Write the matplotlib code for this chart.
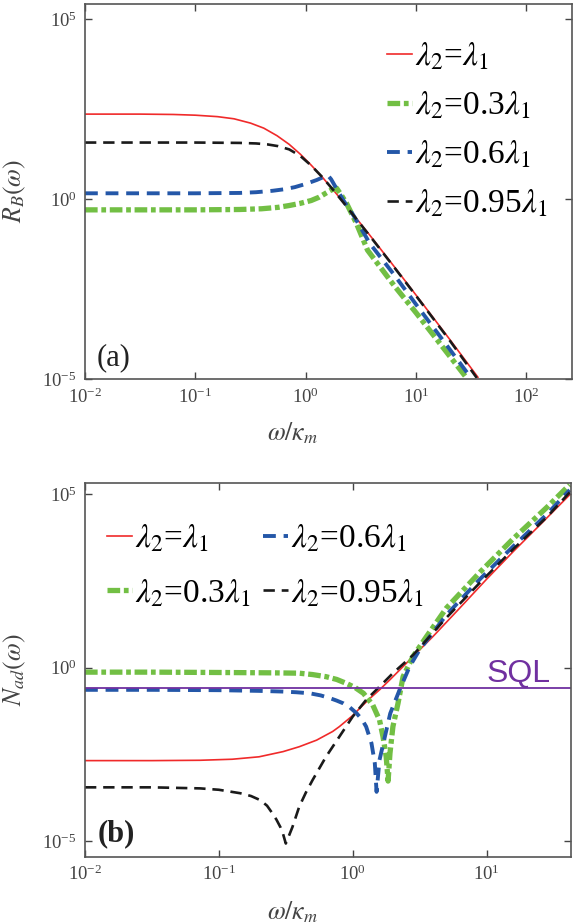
import numpy as np
import matplotlib
matplotlib.use("Agg")
import matplotlib.pyplot as plt
from matplotlib.ticker import FixedLocator, LogFormatterMathtext, NullLocator

plt.rcParams['font.family'] = ['Liberation Serif', 'DejaVu Serif']
plt.rcParams['mathtext.fontset'] = 'stix'

# ---- panel (a): R_B(omega), values read as log10 ----
a_red_x = [-2, -1.5, -1.2, -1.0, -0.8, -0.65, -0.5, -0.38, -0.26, -0.15, -0.05, 0.05,
           0.15, 0.25, 0.35, 0.45, 0.6, 0.8, 1.0, 1.3, 1.56]
a_red_y = [2.36, 2.36, 2.35, 2.33, 2.29, 2.23, 2.11, 1.97, 1.76, 1.52, 1.25, 0.94,
           0.61, 0.25, -0.12, -0.50, -1.08, -1.87, -2.67, -3.88, -4.95]

a_green_x = [-2, -1.0, -0.6, -0.4, -0.25, -0.15, -0.05, 0.05, 0.12, 0.18, 0.23, 0.28,
             0.32, 0.37, 0.46, 0.56, 0.8, 1.0, 1.2, 1.45]
a_green_y = [-0.3, -0.3, -0.29, -0.27, -0.23, -0.18, -0.12, -0.04, 0.05, 0.16, 0.25, 0.30,
             0.12, -0.12, -0.68, -1.42, -2.4, -3.16, -3.95, -4.94]

a_blue_x = [-2, -1.0, -0.6, -0.45, -0.3, -0.2, -0.1, 0.0, 0.1, 0.16, 0.2, 0.23, 0.26,
            0.34, 0.43, 0.58, 0.8, 1.0, 1.25, 1.5]
a_blue_y = [0.16, 0.16, 0.17, 0.19, 0.23, 0.27, 0.33, 0.42, 0.53, 0.61, 0.66, 0.55, 0.39,
            -0.03, -0.44, -1.23, -2.1, -2.93, -3.95, -4.98]

a_black_x = [-2, -1.0, -0.6, -0.45, -0.35, -0.25, -0.15, -0.05, 0.05, 0.15, 0.25, 0.35,
             0.45, 0.6, 0.8, 1.0, 1.3, 1.55]
a_black_y = [1.57, 1.57, 1.56, 1.545, 1.52, 1.47, 1.38, 1.2, 0.93, 0.61, 0.25, -0.13,
             -0.52, -1.1, -1.89, -2.69, -3.91, -4.97]

# ---- panel (b): N_ad(omega), values read as log10 ----
b_red_x = [-2, -1.5, -1.14, -0.9, -0.7, -0.52, -0.4, -0.27, -0.15, -0.1, 0.0, 0.05, 0.13,
           0.2, 0.28, 0.35, 0.45, 0.6, 0.8, 1.0, 1.2, 1.4, 1.62]
b_red_y = [-2.68, -2.68, -2.67, -2.64, -2.57, -2.42, -2.28, -2.09, -1.84, -1.70, -1.38, -1.18,
           -0.88, -0.64, -0.34, -0.07, 0.32, 0.9, 1.72, 2.55, 3.35, 4.12, 4.98]

b_green_x = [-2, -1.5, -1.0, -0.6, -0.4, -0.3, -0.2, -0.12, -0.05, 0.02, 0.08, 0.15, 0.2,
             0.226, 0.25, 0.264, 0.278, 0.3, 0.338, 0.376, 0.45, 0.55, 0.7, 0.95, 1.2,
             1.45, 1.62]
b_green_y = [-0.13, -0.13, -0.14, -0.15, -0.16, -0.2, -0.26, -0.34, -0.45, -0.58, -0.74,
             -1.08, -1.51, -1.99, -2.57, -3.27, -2.47, -1.70, -1.03, -0.26, 0.32, 0.89,
             1.72, 2.75, 3.72, 4.62, 5.27]

b_blue_x = [-2, -1.5, -1.0, -0.7, -0.52, -0.42, -0.32, -0.24, -0.17, -0.12, -0.07, -0.02,
            0.03, 0.07, 0.1, 0.14, 0.165, 0.178, 0.2, 0.24, 0.28, 0.35, 0.425, 0.5, 0.7,
            0.95, 1.2, 1.45, 1.62]
b_blue_y = [-0.64, -0.64, -0.65, -0.67, -0.69, -0.71, -0.74, -0.8, -0.88, -0.95, -1.03,
            -1.15, -1.32, -1.5, -1.70, -2.18, -2.76, -3.58, -2.66, -1.99, -1.32, -0.64,
            0.03, 0.52, 1.52, 2.55, 3.5, 4.42, 5.12]

b_black_x = [-2, -1.5, -1.14, -1.0, -0.84, -0.76, -0.69, -0.64, -0.6, -0.57, -0.54, -0.52,
             -0.5, -0.48, -0.45, -0.4, -0.35, -0.3, -0.2, -0.1, 0.0, 0.1, 0.2, 0.3,
             0.45, 0.7, 0.95, 1.2, 1.45, 1.62]
b_black_y = [-3.45, -3.45, -3.48, -3.52, -3.62, -3.7, -3.82, -3.98, -4.2, -4.38, -4.6,
             -4.8, -5.07, -4.88, -4.59, -4.01, -3.6, -3.24, -2.57, -1.99, -1.41, -0.93,
             -0.55, -0.16, 0.36, 1.44, 2.45, 3.42, 4.34, 5.05]

sql_level = -0.58

labels = [r'$\lambda_2$=$\lambda_1$', r'$\lambda_2$=0.3$\lambda_1$',
          r'$\lambda_2$=0.6$\lambda_1$', r'$\lambda_2$=0.95$\lambda_1$']

red = '#f02a2a'
green = '#72bf44'
blue = '#2457a8'
black = '#1a1a1a'
purple = '#7030a0'
gray = '#444444'

fig = plt.figure(figsize=(5.84, 9.24), dpi=100)
ax1 = fig.add_axes([0.1455, 0.5898, 0.8335, 0.4059])
ax2 = fig.add_axes([0.1455, 0.0728, 0.8322, 0.4048])


def p(v):
    return 10.0 ** np.asarray(v)


def draw(ax, rx, ry, gx, gy, bx, by, kx, ky):
    l1, = ax.plot(p(rx), p(ry), color=red, lw=1.2)
    l2, = ax.plot(p(gx), p(gy), color=green, lw=3.8, dashes=(2.4, 0.7, 0.9, 0.7),
                  dash_capstyle='butt')
    l3, = ax.plot(p(bx), p(by), color=blue, lw=2.8, dashes=(3.3, 2.0))
    l4, = ax.plot(p(kx), p(ky), color=black, lw=1.9, dashes=(4.3, 2.6))
    return [l1, l2, l3, l4]


def style(ax):
    ax.set_xscale('log')
    ax.set_yscale('log')
    ax.yaxis.set_major_locator(FixedLocator([1e-5, 1e0, 1e5]))
    ax.xaxis.set_minor_locator(NullLocator())
    ax.yaxis.set_minor_locator(NullLocator())
    ax.xaxis.set_major_formatter(LogFormatterMathtext())
    ax.yaxis.set_major_formatter(LogFormatterMathtext())
    ax.tick_params(which='both', direction='in', top=True, right=True,
                   length=5, width=1.0, color=gray, labelsize=13.5, labelcolor=gray, pad=6)
    for s in ax.spines.values():
        s.set_color('#555555')
        s.set_linewidth(1.2)


# panel (a)
h1 = draw(ax1, a_red_x, a_red_y, a_green_x, a_green_y, a_blue_x, a_blue_y, a_black_x, a_black_y)
style(ax1)
ax1.set_xticks([1e-2, 1e-1, 1e0, 1e1, 1e2])
ax1.set_xlim(1e-2, 10 ** 2.41)
ax1.set_ylim(1e-5, 10 ** 5.42)
ax1.set_ylabel(r'$R_B(\omega)$', fontsize=18.5, color=gray)
ax1.set_xlabel(r'$\omega/\kappa_m$', fontsize=18.5, color=gray)
ax1.yaxis.set_label_coords(-0.117, 0.5)
ax1.xaxis.set_label_coords(0.427, -0.11)
ax1.text(0.024, 0.018, '(a)', transform=ax1.transAxes, fontsize=22, color='#222222',
         va='bottom')
ax1.legend(h1, labels, loc='upper left', bbox_to_anchor=(0.62, 0.9), frameon=False,
           fontsize=24, handlelength=0.75, handletextpad=0.1, labelspacing=0.52,
           borderaxespad=0, borderpad=0)

# panel (b)
h2 = draw(ax2, b_red_x, b_red_y, b_green_x, b_green_y, b_blue_x, b_blue_y, b_black_x, b_black_y)
ax2.axhline(10 ** sql_level, color=purple, lw=1.3)
style(ax2)
ax2.set_xticks([1e-2, 1e-1, 1e0, 1e1])
ax2.set_xlim(1e-2, 10 ** 1.63)
ax2.set_ylim(10 ** -5.45, 10 ** 5.33)
ax2.set_ylabel(r'$N_{ad}(\omega)$', fontsize=18.5, color=gray)
ax2.set_xlabel(r'$\omega/\kappa_m$', fontsize=18.5, color=gray)
ax2.yaxis.set_label_coords(-0.117, 0.5)
ax2.xaxis.set_label_coords(0.427, -0.113)
ax2.text(0.026, 0.022, '(b)', transform=ax2.transAxes, fontsize=22, fontweight='bold',
         color='#222222', va='bottom')
ax2.text(0.826, 10 ** -0.40, 'SQL', transform=ax2.get_yaxis_transform(), fontsize=23,
         color=purple, family=['Liberation Sans', 'DejaVu Sans'], ha='left', va='baseline')
ax2.legend(h2, labels, loc='upper left', bbox_to_anchor=(0.045, 0.893), ncol=2, frameon=False,
           fontsize=24, handlelength=0.75, handletextpad=0.1, labelspacing=0.7,
           columnspacing=0.35, borderaxespad=0, borderpad=0)

fig.savefig('out.png', dpi=100)
